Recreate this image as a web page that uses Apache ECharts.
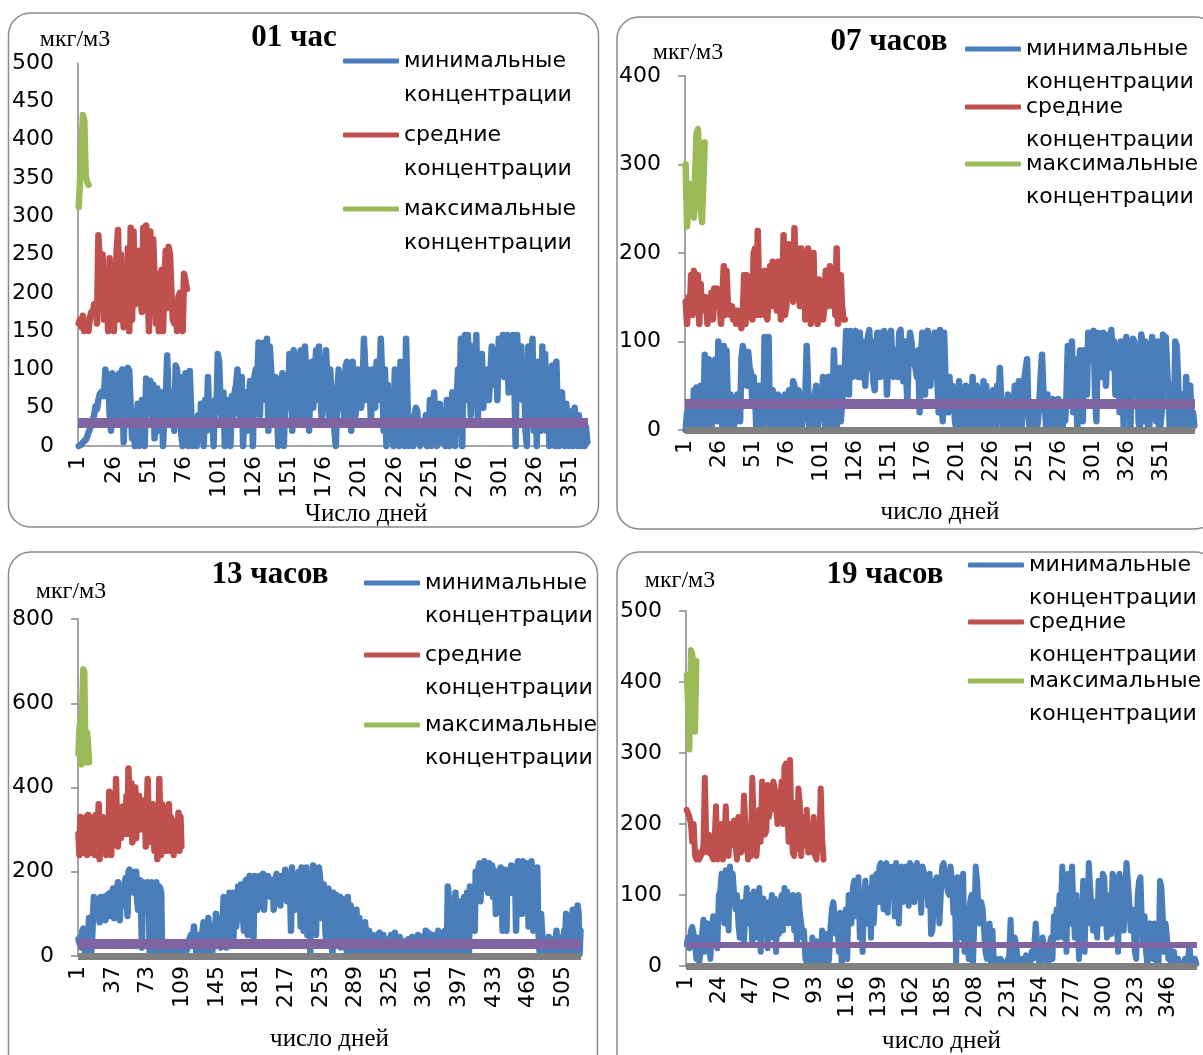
<!DOCTYPE html>
<html>
<head>
<meta charset="utf-8">
<script src="https://cdn.jsdelivr.net/npm/echarts@6/dist/echarts.min.js"></script>
<style>
   html, body { margin: 0; background: #fff; }
   #chart { width: 1203px; height: 1055px; }
</style>
</head>
<body>
<div id="chart"></div>
<script>
   // ПДК, мкг/м3
   var pdk = 30;

   // 01 час
   var min01 = [
      0,0,2,5,3,8,12,18,22,28, 35,40,52,48,60,68,70,72,65,100, 90,85,40,20,95,88,60,92,30,95,
      80,100,5,60,90,102,98,50,10,45, 0,30,55,0,40,60,20,0,88,90, 70,85,40,80,10,60,75,20,50,70,
      0,40,65,118,60,30,70,50,20,105, 100,60,90,15,0,55,95,40,0,98, 50,0,20,35,0,40,10,55,30,0,
      60,20,90,30,50,40,0,60,45,120, 110,50,30,70,0,45,60,20,0,65, 40,70,80,100,60,30,90,0,50,70,
      20,60,85,70,0,90,100,80,135,40, 120,90,135,60,140,20,130,100,70,40, 90,60,0,50,80,95,0,60,90,50,
      120,100,20,125,60,90,30,115,125,80, 40,130,130,60,20,100,110,50,90,125, 60,130,80,30,110,60,125,90,40,100,
      70,60,20,0,60,100,90,50,80,30, 105,110,60,100,20,110,80,40,60,100, 90,50,70,140,140,60,100,80,30,100,
      90,50,110,60,70,140,90,20,100,0, 80,40,70,20,0,100,60,50,0,110, 40,90,0,140,60,0,30,20,0,40,
      50,45,10,0,30,5,20,40,0,15, 60,0,25,70,10,0,30,55,5,20, 40,0,60,15,0,50,70,20,0,60,
      100,40,140,0,130,145,60,145,100,40, 130,70,100,145,30,90,60,120,50,100, 80,100,60,95,130,80,100,125,60,140,
      130,100,145,90,130,145,70,140,100,145, 90,0,145,110,100,130,60,100,20,0, 130,100,60,140,20,90,0,110,60,20,
      130,40,120,20,100,0,60,105,30,0, 110,40,0,60,70,20,0,55,30,0, 45,10,0,50,20,0,40,10,0,30,
      0,25,5
   ];
   var avg01 = [
      160,165,155,170,150,158,162,150,168,175, 172,185,180,160,275,240,178,250,165,230,
      200,150,245,160,220,150,190,255,282,165, 250,200,155,230,170,258,150,285,165,280,
      185,245,200,255,190,175,285,180,288,210, 150,280,200,270,220,160,225,150,205,230,
      150,215,255,180,260,250,200,165,160,180, 150,195,200,160,150,225,215,205
   ];
   var max01 = [312,350,390,432,425,352,345,341];

   // 07 часов
   var min07 = [
      0,20,5,30,10,0, 45,10,48,35,0,50,20,0, 85,40,0,80,75,0,78,30,80,10,
      100,102,60,0,95,80,90,30,0,40,20,0, 0,20,40,30,10,80,95,85,60,50, 88,70,65,30,60,40,0,45,50,20,
      10,0,105,30,20,105,0,40,45,20,0,30,40,25,10, 0,35,40,0,20,45,0,10,55,50,0,30,
      45,30,0,0,20,40,95,50,0,20,10,0, 40,50,0,45,20,30,60,10,0,55, 60,50,0,30,90,45,0,60,70,10,30,50,
      70,112,80,40,112,70,60,100,112,90,60,110, 60,100,90,50,80,105,113,70,100,55,45,95,110,80,60,
      110,70,112,90,40,80,100,112,70,60,90,85, 60,110,113,80,55,100,70,30,90,110,100,75,
      80,70,60,90,20,80,110,75,40,100,112,60,50,80,75,110,70,
      60,20,113,40,10,110,60,55,20, 60,30,50,40,10,0,40,55,30,0,5,30,50,20,0,
      10,25,60,0,10,50,30,0,0,5,55,40, 50,10,0,0,30,45,10,0,50,30,70,35,
      5,20,0,10,40,30,0,5,25,50,0,30,55,15,0, 40,58,60,80,20,0,30,10,25,20,
      0,10,30,60,85,45,30,5,40,0,20,10,35, 30,0,15,35,25,10,0,20,10,40,
      95,60,40,100,20,80,65,0,60,90,75,10, 90,70,40,110,105,80,100,112,40,10,110,100,80,60,
      110,105,50,95,108,80,113,70,100,40,60,95,20,100,80, 5,90,105,70,100,0,60,103,100,40,90,10,0,108,95,
      10,100,90,0,5,60,105,80,40,10,100,0,5,20, 108,100,105,70,40,0,10,50,0,100,95,60,0,0,40,
      5,0,60,0,30,50,0,20,5
   ];
   var avg07 = [
      145,120,150,130,175,130,180,170,140,175, 120,165,135,150,140,150,120,145,130,155,
      125,160,140,160,155,140,120,150,185,130, 180,140,135,130,140,125,130,120,135,130,
      125,115,130,175,120,175,130,140,165,125, 200,205,130,225,150,130,140,170,180,130,
      125,150,185,140,190,160,145,135,190,175, 125,160,220,130,140,175,210,150,190,145,
      228,150,205,170,140,205,160,200,125,135, 205,170,120,140,200,130,155,120,170,140,
      165,125,140,180,150,140,185,150,140,175, 130,205,120,150,175,140,125,125
   ];
   var max07 = [300,230,260,278,275,245,240,290,335,340,300,250,235,280,325];

   // 13 часов
   var min13 = [
      40,30,45,20,60,65,40,0,50,30, 45,90,60,0,30,90,140,100,110,135, 130,100,80,140,110,95,140,120,85,130,145,
      110,95,150,130,120,160,90,145,120,150,175,140,85,165, 135,160,120,175,185,150,95,200,205,160,200,200,170,150,
      155,200,130,110,170,180,120, 20,175,160,150,110,140, 175,170,10,165,175,
      175,150,0,170,175,120,0,165,160,150,0,5, 0,5,0,10,0,15,0,5,10,0,20,5,
      15,25,10,30,20,5,10,30,25,5,0,20,15,30, 30,45,50,30,40,70,45,20,0,35,50,40,10,30,
      60,80,55,30,0,40,90,70,50,20,0,45,30,60, 100,60,35,90,70,20,40,95,140,110,60,20,35,80,150,70,110,
      60,25,150,120,70,100,165,90,140,170,150,100,60,170,180,130,50,185,
      190,140,160,170,40,190,175,150,110,180,190,120,160,175,195,110,170,185,
      145,190,190,175,140,170,180,110,150,185,195,160,140,175,120,190,170,150,
      180,205,160,130,170,190,150,60,210,140,170,110,190,160,120,200,180,70,
      210,190,60,170,130,210,50,180,120,10,160,60,215,200,130,50,180,100,210,190,160,90,130,170,100,50,30,
      150,160,30,140,100,0,150,120,60,145,30,130,90,140,20,60,115,40,
      135,100,10,140,80,30,120,60,5,100,20,0,110,60,10,90,40,5,70,15,0,80,40,10,0,60,20,
      10,40,50,0,45,20,5,50,10,55,0,40,15,50,5,30,0,20,40,0,10,50,25,0,15,55,10,0,30,5,45,10,
      0,20,10,35,0,25,5,40,15,0,20,45,10,0,30,5,15,50,0,25,10,45,0,35,20,60,40,10,55,30,0,40,50,15,45,0,20,40,
      60,45,50,0,10,55,40,60,20,0,165,140,60,130,50,0,120,60,
      150,60,0,120,40,20,130,60,0,140,100,50,150,30,0,165,120,90,160,140,60,
      200,180,150,210,220,130,200,215,190,225,160,210,195,150,220,200,180,215,140,205,190,
      100,200,170,190,160,210,180,60,195,150,205,60,185,190,200,170,215,150,205,180,190,
      60,205,225,160,190,215,100,225,180,210,120,220,200,70,215,190,225,180,60,200,170,130,210,80,
      20,0,100,60,10,0,40,30,15,0,45,20,5,30,10,40,0,25,60,10,0,45,20,0,
      30,0,60,40,100,20,0,50,10,0,30,110,20,60,0,30,120,100,5,60
   ];
   var avg13 = [
      290,240,330,250,300,245,320,260, 330,240,335,250,330,245,320,260,300,240,
      335,280,250,360,230,310,270,330,300,250,315,240,320,260,
      390,280,240,330,300,350,270,420,300,260,340,310,280,330,355,290,300,
      330,380,290,445,350,300,410,270,390,330,400,280,350,310,380,300,330,350,
      330,300,370,260,330,420,290,350,330,270,360,300,250,330,350,230,270,
      420,300,240,360,260,350,300,250,340,280,360,250,330,260,300,240,320,255,260,280,340,250,330,260
   ];
   var max13 = [480,540,560,455,600,680,675,520,460,530,500,460];

   // 19 часов
   var min19 = [
      30,40,25,50,55,45,30,10,40,5, 20,45,65,20,55,60,30,10,50,70, 60,70,25,
      100,105,130,90,60,135,120,50,140,110,130,100,80, 100,60,40,80,90,30,75,110,60,100,
      85,30,105,50,80,40,110,20,75,95,60,80, 25,90,60,100,40,95,20,75,45,90,100,50,
      110,80,105,60,95,70,100,50,90,30,100,75, 60,40,50,10,5,0,30,0,40,10,0,35,
      0,20,10,50,0,30,45,0,10,55, 80,90,70,45,60,20,75,0,30,50,80,10,
      100,90,60,110,120,70,100,125,40,80,20,90, 120,60,110,90,40,125,60,100,130,90,140,145,110,80,130,
      145,75,140,120,100,140,70,145,110,60,130,140,90,110, 140,130,85,145,140,120,90,135,145,130,110,75,140,130,
      100,120,85,130,45,50,90,120,125,100,60, 100,140,145,130,120,105,100,140,120,
      75,110,5,125,60,40,100,130,20, 40,80,10,90,100,0,60,140,120,80,60,90,
      80,50,20,10,40,60,0,50,5, 0,10,5,0,10,3,0,5,2,0,15,65,5,0,
      40,30,10,5,0,10,0,5,15,0,10,5,20,10,30, 60,30,10,0,20,40,10,25,0,5,30,40,
      10,70,60,80,40,100,75,140,40,90,20,130,100,60, 140,80,40,100,60,10,90,70,120,20,95,60,
      145,110,80,50,90,65,40,120,110,60,130,125, 80,40,60,100,45,130,125,90,60,20,130,110,85,50,100,
      145,120,90,50,80,60,20,10,100,120,125,60,30,70, 20,0,50,60,40,10,60,30,0,5,120,110,70,20,
      60,40,10,30,0,5,20,0,5,10,0,3,5,0,10, 0,5,30,10,0,5,10,3
   ];
   var avg19 = [
      220,215,210,200,175,200, 155,150,160,150,155,158, 170,265,180,160, 185,160,155,150,175,
      225,150,175,160,200,150, 170,225,160,155,200,170, 185,205,170,150,210,165,
      160,180,240,200,170,150, 175,155,265,200,180,155, 190,220,175,260,200,185,
      190,255,210,230,220,260, 250,230,200,245,230,260, 200,280,285,230,175,290,
      200,160,155,230,165,250, 230,155,200,210,170,220, 160,200,170,160,210,155,
      150,200,165,250,180,150
   ];
   var max19 = [410,360,305,445,440,420,330,430];

   var NAME_MIN = 'минимальные концентрации';
   var NAME_AVG = 'средние концентрации';
   var NAME_MAX = 'максимальные концентрации';

   var panels = [
      {title: '01 час', tx: 294, ty: 22, min: min01, avg: avg01, max: max01, yMax: 500, yStep: 50, xStep: 24,
         grid: {left: 78, top: 63, width: 510, height: 383}, ticks: false, zero: false, pdkW: 10, lw: 6.5,
         xName: 'Число дней', xGap: 52, xPad: [0, 0, 0, 66], yGap: 9, yPad: [0, 6, 0, 0],
         legX: 343, legL: 34, legC: [61, 135, 209],
         box: {x: 8.5, y: 13, width: 590, height: 514}},
      {title: '07 часов', tx: 889, ty: 26, min: min07, avg: avg07, max: max07, yMax: 400, yStep: 100, xStep: 24,
         grid: {left: 685, top: 76, width: 510, height: 354}, ticks: true, zero: true, pdkW: 10, lw: 6.5,
         xName: 'число дней', xGap: 70, xPad: [0, 0, 0, 0], yGap: 11, yPad: [0, 0, 0, 6],
         legX: 965, legL: 33, legC: [49, 107, 164],
         box: {x: 617, y: 17, width: 600, height: 512}},
      {title: '13 часов', tx: 270, ty: 559, min: min13, avg: avg13, max: max13, yMax: 800, yStep: 200, xStep: 35,
         grid: {left: 78, top: 619, width: 503, height: 337}, ticks: true, zero: true, pdkW: 10, lw: 6.5,
         xName: 'число дней', xGap: 71, xPad: [0, 0, 0, 0], yGap: 15, yPad: [0, 14, 0, 0],
         legX: 364, legL: 33, legC: [583, 655, 725],
         box: {x: 8.5, y: 552, width: 589, height: 530}},
      {title: '19 часов', tx: 885, ty: 559, min: min19, avg: avg19, max: max19, yMax: 500, yStep: 100, xStep: 22,
         grid: {left: 686, top: 611, width: 511, height: 356}, ticks: true, zero: true, pdkW: 6, lw: 6,
         xName: 'число дней', xGap: 63, xPad: [0, 0, 0, 0], yGap: 18, yPad: [0, 12, 0, 0],
         legX: 968, legL: 33, legC: [565, 622, 681],
         box: {x: 617, y: 552, width: 600, height: 530}}
   ];

   var colors = {min: '#4a7ebb', avg: '#c0504d', max: '#9bbb59', pdk: '#8064a2', zero: '#808080', axis: '#868686'};

   var chart = echarts.init(document.getElementById('chart'));
   var option = {
      animation: false,
      backgroundColor: '#fff',
      title: [], legend: [], grid: [], xAxis: [], yAxis: [], series: [], graphic: []
   };

   panels.forEach(function(p, i){
      var days = p.min.map(function(v, k){ return k + 1; });

      option.graphic.push({
         type: 'rect', silent: true, z: -10,
         shape: {x: p.box.x, y: p.box.y, width: p.box.width, height: p.box.height, r: 22},
         style: {fill: 'none', stroke: '#8a8a8a', lineWidth: 1.5}
      });

      option.title.push({
         text: p.title, left: p.tx, top: p.ty, textAlign: 'center', padding: 0,
         textStyle: {fontFamily: 'Liberation Serif', fontWeight: 'bold', fontSize: 31, color: '#000'}
      });

      option.grid.push(p.grid);

      option.xAxis.push({
         type: 'category', gridIndex: i, data: days, boundaryGap: true,
         name: p.xName, nameLocation: 'middle', nameGap: p.xGap,
         nameTextStyle: {fontFamily: 'Liberation Serif', fontSize: 25, color: '#000', padding: p.xPad},
         axisLine: {lineStyle: {color: colors.axis, width: 1.5}},
         axisTick: {show: false},
         axisLabel: {interval: p.xStep, rotate: 90, margin: 10, fontFamily: 'DejaVu Sans', fontSize: 22, color: '#000'},
         splitLine: {show: false}
      });

      option.yAxis.push({
         type: 'value', gridIndex: i, min: 0, max: p.yMax, interval: p.yStep,
         name: 'мкг/м3', nameLocation: 'end', nameGap: p.yGap,
         nameTextStyle: {fontFamily: 'Liberation Serif', fontSize: 24, color: '#000', align: 'center', padding: p.yPad},
         axisLine: {show: true, lineStyle: {color: colors.axis, width: 1.5}},
         axisTick: {show: p.ticks, length: 7, lineStyle: {color: colors.axis, width: 1.5}},
         axisLabel: {margin: 24, fontFamily: 'DejaVu Sans', fontSize: 22, color: '#000'},
         splitLine: {show: false}
      });

      // линия ПДК и нулевая линия
      var marks = [{yAxis: pdk, lineStyle: {color: colors.pdk, width: p.pdkW, type: 'solid'}}];
      if(p.zero){
         marks.push({yAxis: 0, lineStyle: {color: colors.zero, width: 7, type: 'solid'}});
      }

      option.series.push({
         type: 'line', name: NAME_MIN, xAxisIndex: i, yAxisIndex: i, data: p.min,
         symbol: 'none', clip: false,
         lineStyle: {color: colors.min, width: p.lw, join: 'round', cap: 'round'}, itemStyle: {color: colors.min},
         markLine: {silent: true, symbol: ['none', 'none'], animation: false, label: {show: false}, data: marks}
      });
      option.series.push({
         type: 'line', name: NAME_AVG, xAxisIndex: i, yAxisIndex: i, data: p.avg,
         symbol: 'none', clip: false,
         lineStyle: {color: colors.avg, width: p.lw, join: 'round', cap: 'round'}, itemStyle: {color: colors.avg}
      });
      option.series.push({
         type: 'line', name: NAME_MAX, xAxisIndex: i, yAxisIndex: i, data: p.max,
         symbol: 'none', clip: false,
         lineStyle: {color: colors.max, width: p.lw, join: 'round', cap: 'round'}, itemStyle: {color: colors.max}
      });

      // подпись в две строки, значок напротив первой строки
      [NAME_MIN, NAME_AVG, NAME_MAX].forEach(function(name, k){
         option.legend.push({
            data: [name], left: p.legX, top: p.legC[k] - 1.5 * p.legL, padding: 0,
            orient: 'vertical', icon: 'roundRect', itemWidth: 56, itemHeight: 5, itemGap: 0,
            selectedMode: false,
            formatter: function(n){ return '\n' + n.replace(' ', '\n'); },
            textStyle: {fontFamily: 'DejaVu Sans', fontSize: 22, color: '#000', lineHeight: p.legL}
         });
      });
   });

   chart.setOption(option);
</script>
</body>
</html>
